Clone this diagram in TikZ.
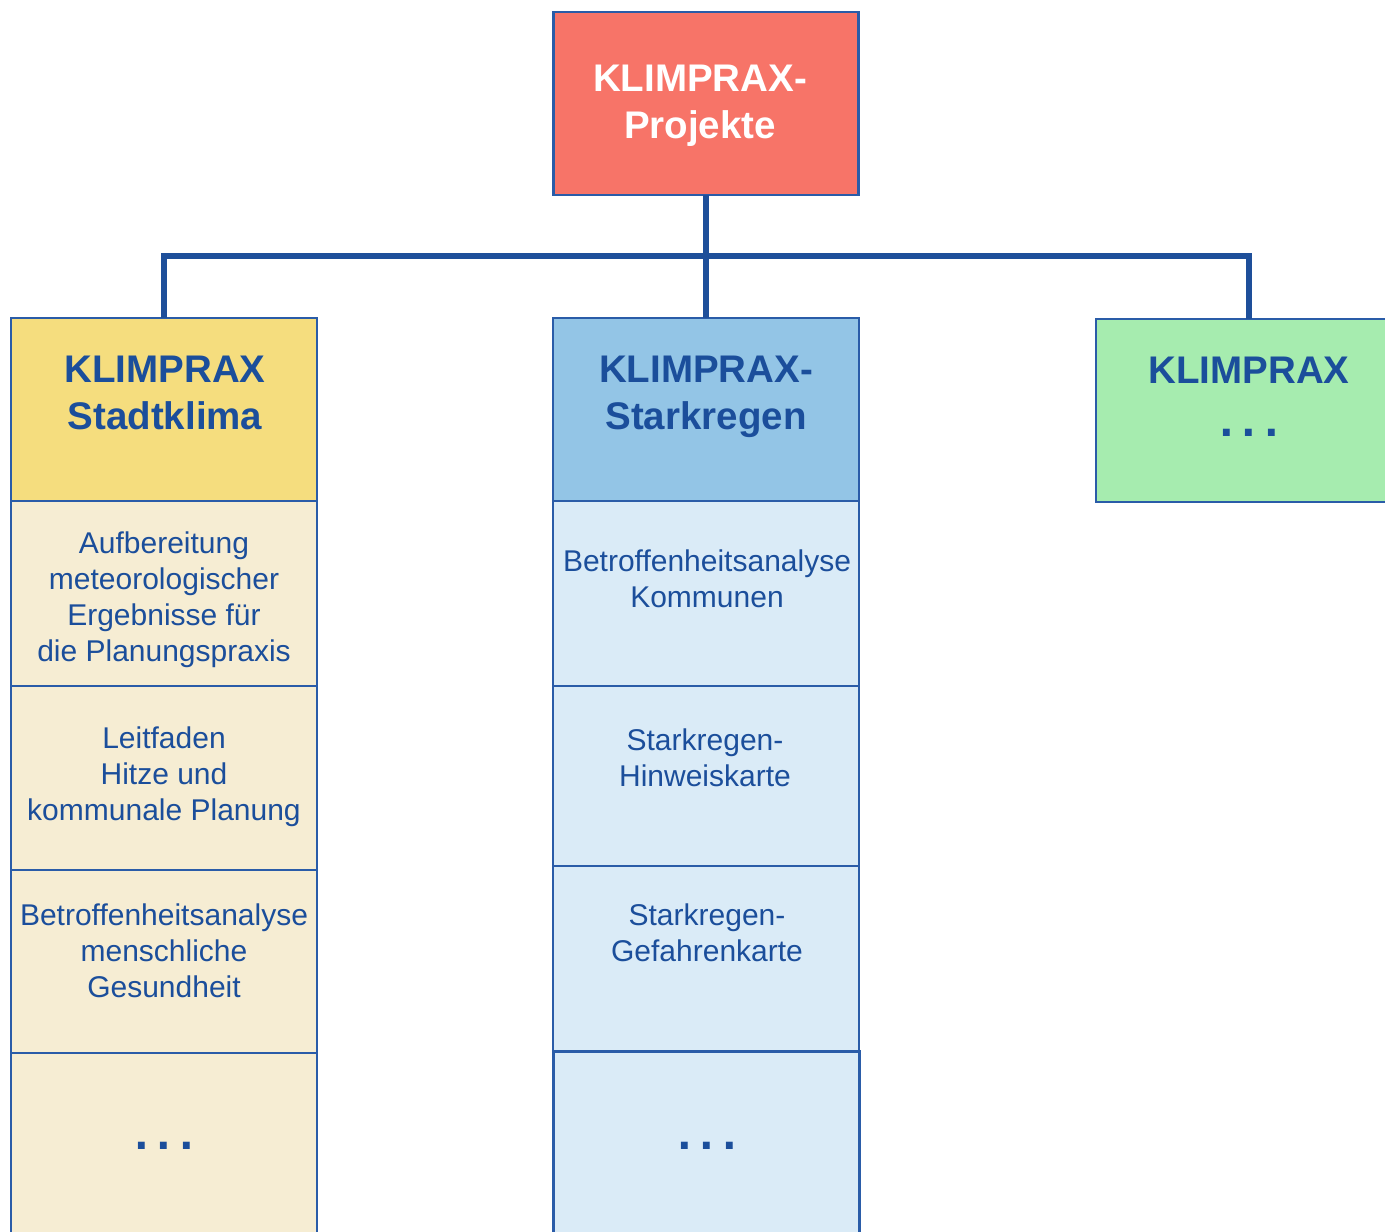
\documentclass[tikz,border=0pt]{standalone}
\usepackage{fontspec}
\setmainfont{Liberation Sans}
\newfontfamily\dotfont{DejaVu Sans}
\usetikzlibrary{positioning}

\definecolor{kxtext}{HTML}{1B4E9B}
\definecolor{kxframe}{HTML}{2A5CA8}
\definecolor{kxline}{HTML}{1E4F9A}
\definecolor{kxred}{HTML}{F77468}
\definecolor{kxyellow}{HTML}{F5DD7E}
\definecolor{kxcream}{HTML}{F6EDD3}
\definecolor{kxblue}{HTML}{93C5E6}
\definecolor{kxpale}{HTML}{DAEBF7}
\definecolor{kxgreen}{HTML}{A6ECAF}

\newcommand{\kxdots}{{\dotfont\bfseries .\hspace{8pt}.\hspace{8pt}.}}

\begin{document}
\begin{tikzpicture}
[x=1pt,y=-1pt,%
  box/.style={draw=kxframe,line width=2.2pt,rectangle,inner sep=0pt,outer sep=0pt,minimum width=306pt},%
  head/.style={box,minimum height=183pt},%
  title/.style={align=center,font=\fontsize{38.5}{47}\selectfont\bfseries,text=kxtext},%
  entry/.style={align=center,font=\fontsize{30}{36}\selectfont,text=kxtext},%
  link/.style={draw=kxline,line width=6pt}]
\useasboundingbox[fill=white] (0,0) rectangle (1385,1232);

\node[head,fill=kxred,minimum width=305pt,anchor=north west] (projekte) at (553.5,12) {};
\node[head,fill=kxyellow,anchor=north west] (stadt) at (11,318) {};
\node[head,fill=kxblue,anchor=north west] (stark) at (553,318) {};
\node[head,fill=kxgreen,anchor=north west] (weitere) at (1096,319) {};

\node[box,fill=kxcream,minimum height=185pt,below=0pt of stadt] (stadt1) {};
\node[box,fill=kxcream,minimum height=184pt,below=0pt of stadt1] (stadt2) {};
\node[box,fill=kxcream,minimum height=183pt,below=0pt of stadt2] (stadt3) {};
\node[box,fill=kxcream,minimum height=200pt,below=0pt of stadt3] (stadt4) {};

\node[box,fill=kxpale,minimum height=185pt,below=0pt of stark] (stark1) {};
\node[box,fill=kxpale,minimum height=180pt,below=0pt of stark1] (stark2) {};
\node[box,fill=kxpale,minimum height=185pt,below=0pt of stark2] (stark3) {};
\node[box,fill=kxpale,line width=3pt,minimum height=200pt,below=0pt of stark3] (stark4) {};

\coordinate (fork) at (706,256);
\draw[link] (projekte.south) -- (stark.north);
\draw[link] (stadt.north) |- (fork) -| (weitere.north);

\node[title,text=white] (projektetext) at (700,106) {KLIMPRAX-\\Projekte};
\node[title] (stadttext) at (165,393) {KLIMPRAX\\Stadtklima};
\node[title] (starktext) at (706,397) {KLIMPRAX-\\Starkregen};
\node[title] (weiteretext) at (1249,397) {KLIMPRAX\\[6pt]\kxdots};

\node[entry] (stadt1text) at (164,600) {Aufbereitung\\meteorologischer\\Ergebnisse f\"ur\\die Planungspraxis};
\node[entry] (stadt2text) at (164,777) {Leitfaden\\Hitze und\\kommunale Planung};
\node[entry] (stadt3text) at (164,951) {Betroffenheitsanalyse\\menschliche\\Gesundheit};
\node[title] (stadt4text) at (164,1146) {\kxdots};

\node[entry] (stark1text) at (707,579) {Betroffenheitsanalyse\\Kommunen};
\node[entry] (stark2text) at (705,758) {Starkregen-\\Hinweiskarte};
\node[entry] (stark3text) at (707,933) {Starkregen-\\Gefahrenkarte};
\node[title] (stark4text) at (707,1146) {\kxdots};
\end{tikzpicture}
\end{document}
